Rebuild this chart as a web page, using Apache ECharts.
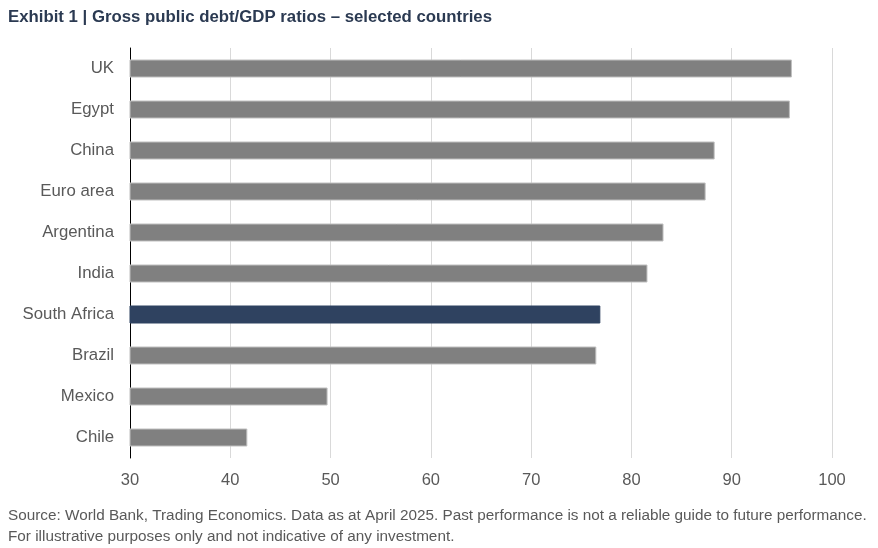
<!DOCTYPE html>
<html><head><meta charset="utf-8">
<script src="https://cdn.jsdelivr.net/npm/echarts@6/dist/echarts.min.js"></script>
<style>html,body{margin:0;padding:0;background:#fff}#c{width:878px;height:548px}</style>
</head><body><div id="c"></div>
<script>
const categories = ['UK','Egypt','China','Euro area','Argentina','India','South Africa','Brazil','Mexico','Chile'];
const values = [96.0, 95.8, 88.3, 87.4, 83.2, 81.6, 76.9, 76.5, 49.7, 41.7];
const highlight = 'South Africa';
const xTicks = [30,40,50,60,70,80,90,100];

const chart = echarts.init(document.getElementById('c'));
chart.setOption({
  animation:false,
  title:[{text:'Exhibit 1 | Gross public debt/GDP ratios \u2013 selected countries',left:3,top:4,
    textStyle:{fontFamily:'Liberation Sans',fontSize:16.8,fontWeight:'bold',color:'#2b3a52'}},
    {text:'Source: World Bank, Trading Economics. Data as at April 2025. Past performance is not a reliable guide to future performance.\nFor illustrative purposes only and not indicative of any investment.',
    left:3,top:500,textStyle:{fontFamily:'Liberation Sans',fontSize:15.3,fontWeight:'normal',color:'#595959',lineHeight:21}}],
  grid:{left:130,right:46,top:48,bottom:90,containLabel:false},
  xAxis:{type:'value',min:xTicks[0],max:xTicks[xTicks.length-1],interval:10,
    axisLine:{show:false},axisTick:{show:false},
    splitLine:{lineStyle:{color:'#d9d9d9',width:1}},
    axisLabel:{color:'#595959',fontFamily:'Liberation Sans',fontSize:16.5,margin:14}},
  yAxis:{type:'category',data:categories,inverse:true,
    axisLine:{lineStyle:{color:'#000',width:1}},axisTick:{show:false},
    axisLabel:{color:'#595959',fontFamily:'Liberation Sans',fontSize:16.8,margin:16}},
  series:[{type:'bar',barWidth:18,
    data:values.map((v,i)=>({value:v,itemStyle:{color:categories[i]===highlight?'#2f4260':'#808080',
      borderColor:categories[i]===highlight?'#2f4260':'#bfbfbf',borderWidth:1}}))}]
});
</script></body></html>
